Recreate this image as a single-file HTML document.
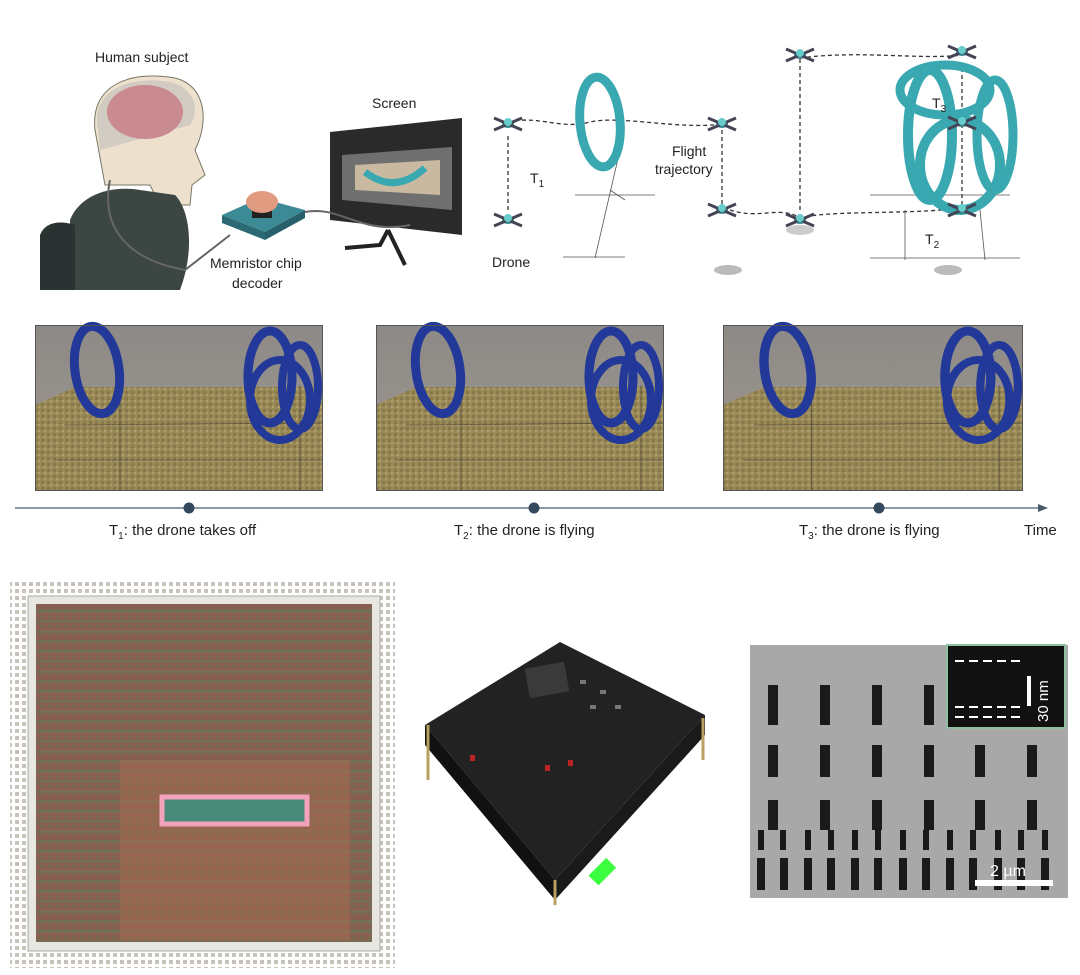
<!DOCTYPE html>
<html><head><meta charset="utf-8"><style>
body{margin:0;background:#fff;width:1080px;height:975px;overflow:hidden;font-family:"Liberation Sans",sans-serif}
svg{display:block}
text{font-family:"Liberation Sans",sans-serif;fill:#222}
</style></head><body>
<svg width="1080" height="975" viewBox="0 0 1080 975">
<defs>
<linearGradient id="wall" x1="0" y1="0" x2="0" y2="1"><stop offset="0" stop-color="#8d8986"/><stop offset="1" stop-color="#a09a92"/></linearGradient>
<pattern id="floor" width="6" height="6" patternUnits="userSpaceOnUse"><rect width="6" height="6" fill="#9a8a58"/><rect width="3" height="3" fill="#86784a"/><rect x="3" y="3" width="2" height="2" fill="#b09f6c"/></pattern>
<pattern id="chipg" width="8" height="8" patternUnits="userSpaceOnUse"><rect width="8" height="8" fill="#8a5e4e"/><rect width="4" height="4" fill="#7a6a52"/><rect x="4" y="4" width="3" height="3" fill="#9a5a48"/></pattern>
<pattern id="streak" width="12" height="10" patternUnits="userSpaceOnUse"><rect width="12" height="10" fill="none"/><rect y="0" width="12" height="3" fill="#6a7a5a" opacity="0.5"/></pattern>
<pattern id="pins" width="7" height="7" patternUnits="userSpaceOnUse"><rect width="7" height="7" fill="#fff"/><rect x="1" y="1" width="4" height="4" fill="#c8c4bc"/></pattern>
<g id="photo">
<rect width="287" height="165" fill="url(#wall)"/>
<polygon points="0,80 40,62 287,62 287,165 0,165" fill="url(#floor)"/>
<g stroke="#333" stroke-width="0.8" fill="none" opacity="0.6"><line x1="20" y1="135" x2="287" y2="135"/><line x1="30" y1="100" x2="287" y2="98"/><line x1="85" y1="60" x2="85" y2="165"/><line x1="265" y1="60" x2="265" y2="165"/></g>
<ellipse cx="62" cy="45" rx="22" ry="44" fill="none" stroke="#23399a" stroke-width="9" transform="rotate(-8 62 45)"/>
<ellipse cx="235" cy="52" rx="22" ry="46" fill="none" stroke="#23399a" stroke-width="9"/>
<ellipse cx="265" cy="62" rx="18" ry="42" fill="none" stroke="#23399a" stroke-width="8"/>
<ellipse cx="245" cy="75" rx="30" ry="40" fill="none" stroke="#23399a" stroke-width="8"/>
</g>
<g id="drone"><ellipse cx="0" cy="0" rx="6" ry="4" fill="#3a8d95"/><path d="M-14,-6 L14,6 M-14,6 L14,-6" stroke="#445" stroke-width="3"/><circle cx="0" cy="-2" r="4" fill="#6cc"/></g>
</defs>

<text x="95" y="62" font-size="14">Human subject</text>
<path d="M95,130 C90,85 130,70 175,78 C205,85 210,120 195,150 L205,175 L192,185 L190,205 L160,205 L150,185 L105,185 Z" fill="#ede0cc" stroke="#776" stroke-width="1"/>
<path d="M98,130 C90,90 130,75 170,82 C195,88 200,110 190,125 L100,150 Z" fill="#c9c6bf" opacity="0.8"/>
<ellipse cx="145" cy="112" rx="38" ry="27" fill="#c98a90"/>
<path d="M70,290 L70,220 C80,195 110,185 140,190 L175,195 C190,210 195,250 180,290 Z" fill="#3c4643"/>
<path d="M40,290 L40,235 C45,222 60,220 75,225 L75,290 Z" fill="#2a3331"/>
<path d="M110,180 C100,230 130,260 185,270 L230,235" stroke="#666" stroke-width="2" fill="none"/>
<polygon points="222,215 260,198 305,210 265,232" fill="#3c8a95"/>
<polygon points="222,215 265,232 265,240 222,223" fill="#2b6a75"/>
<polygon points="265,232 305,210 305,218 265,240" fill="#27606a"/>
<rect x="252" y="206" width="20" height="12" fill="#222"/>
<ellipse cx="262" cy="202" rx="16" ry="11" fill="#e09b80"/>
<text x="210" y="268" font-size="14">Memristor chip</text>
<text x="232" y="288" font-size="14">decoder</text>
<text x="372" y="108" font-size="14">Screen</text>
<polygon points="330,132 462,118 462,235 330,220" fill="#2a2a2a"/>
<polygon points="342,155 452,147 452,210 342,200" fill="#6f6f6f"/>
<polygon points="355,165 440,160 440,195 355,190" fill="#c9b9a1"/>
<path d="M365,172 Q395,195 425,168" stroke="#3aa8b0" stroke-width="7" fill="none"/>
<path d="M388,230 L380,245 L345,248 M388,230 L405,265" stroke="#222" stroke-width="4" fill="none"/>
<path d="M305,212 C340,205 360,235 410,225" stroke="#666" stroke-width="2" fill="none"/>

<g stroke="#333" stroke-width="1.3" stroke-dasharray="4,3" fill="none">
<path d="M508,122 C540,115 560,130 590,122 C620,115 680,130 722,124"/>
<path d="M508,210 L508,135"/>
<path d="M722,130 L722,205"/>
<path d="M730,210 C760,220 780,205 800,218 C830,210 900,215 965,208"/>
<path d="M800,210 L800,58"/>
<path d="M800,58 C860,50 920,60 962,55"/>
<path d="M962,68 L962,205"/>
</g>
<g stroke="#555" stroke-width="0.8" fill="none">
<line x1="575" y1="195" x2="655" y2="195"/><line x1="563" y1="257" x2="625" y2="257"/><line x1="620" y1="150" x2="595" y2="258"/><line x1="610" y1="190" x2="625" y2="200"/>
<line x1="870" y1="195" x2="1010" y2="195"/><line x1="870" y1="258" x2="1020" y2="258"/><line x1="905" y1="210" x2="905" y2="260"/><line x1="980" y1="210" x2="985" y2="260"/>
</g>
<ellipse cx="600" cy="122" rx="20" ry="45" fill="none" stroke="#3aa8b0" stroke-width="9" transform="rotate(-5 600 122)"/>
<ellipse cx="930" cy="135" rx="22" ry="65" fill="none" stroke="#3aa8b0" stroke-width="10"/>
<ellipse cx="995" cy="135" rx="18" ry="55" fill="none" stroke="#3aa8b0" stroke-width="9"/>
<ellipse cx="960" cy="165" rx="40" ry="45" fill="none" stroke="#3aa8b0" stroke-width="10"/>
<ellipse cx="945" cy="90" rx="45" ry="25" fill="none" stroke="#3aa8b0" stroke-width="9"/>
<use href="#drone" x="508" y="124"/><use href="#drone" x="508" y="220"/><use href="#drone" x="722" y="124"/><use href="#drone" x="722" y="210"/><use href="#drone" x="800" y="220"/><use href="#drone" x="800" y="55"/><use href="#drone" x="962" y="52"/><use href="#drone" x="962" y="123"/><use href="#drone" x="962" y="210"/>
<ellipse cx="728" cy="270" rx="14" ry="5" fill="#bbb"/><ellipse cx="800" cy="230" rx="14" ry="5" fill="#ccc"/><ellipse cx="948" cy="270" rx="14" ry="5" fill="#bbb"/>
<text x="530" y="183" font-size="14">T<tspan font-size="10" dy="4">1</tspan></text>
<text x="492" y="267" font-size="14">Drone</text>
<text x="672" y="156" font-size="14">Flight</text>
<text x="655" y="174" font-size="14">trajectory</text>
<text x="932" y="108" font-size="14">T<tspan font-size="10" dy="4">3</tspan></text>
<text x="925" y="244" font-size="14">T<tspan font-size="10" dy="4">2</tspan></text>

<use href="#photo" x="35" y="325"/>
<use href="#photo" x="376" y="325"/>
<use href="#photo" x="723" y="325" transform="translate(723 325) scale(1.042 1) translate(-723 -325)"/>
<g fill="none" stroke="#555" stroke-width="1"><rect x="35.5" y="325.5" width="287" height="165"/><rect x="376.5" y="325.5" width="287" height="165"/><rect x="723.5" y="325.5" width="299" height="165"/></g>

<line x1="15" y1="508" x2="1040" y2="508" stroke="#4a5a6a" stroke-width="1.3"/>
<polygon points="1048,508 1038,504 1038,512" fill="#4a5a6a"/>
<circle cx="189" cy="508" r="5.5" fill="#34495e"/><circle cx="534" cy="508" r="5.5" fill="#34495e"/><circle cx="879" cy="508" r="5.5" fill="#34495e"/>
<text x="109" y="535" font-size="15">T<tspan font-size="10" dy="4">1</tspan><tspan dy="-4">: the drone takes off</tspan></text>
<text x="454" y="535" font-size="15">T<tspan font-size="10" dy="4">2</tspan><tspan dy="-4">: the drone is flying</tspan></text>
<text x="799" y="535" font-size="15">T<tspan font-size="10" dy="4">3</tspan><tspan dy="-4">: the drone is flying</tspan></text>
<text x="1024" y="535" font-size="15">Time</text>

<rect x="10" y="580" width="385" height="388" fill="url(#pins)"/>
<rect x="28" y="596" width="352" height="355" fill="#e8e6e0" stroke="#aaa"/>
<rect x="36" y="604" width="336" height="338" fill="url(#chipg)"/>
<rect x="36" y="604" width="336" height="338" fill="#7c6456" opacity="0.35"/>
<rect x="36" y="604" width="336" height="338" fill="url(#streak)"/>
<rect x="120" y="760" width="230" height="180" fill="#a86a50" opacity="0.5"/>
<rect x="162" y="797" width="145" height="27" fill="#4a8a78" stroke="#f2a2bb" stroke-width="5"/>

<polygon points="560,642 705,715 555,880 425,725" fill="#222"/>
<polygon points="425,725 555,880 555,900 425,745" fill="#111"/>
<polygon points="555,880 705,715 705,735 555,900" fill="#1a1a1a"/>
<rect x="527" y="665" width="40" height="30" fill="#3a3a3a" transform="rotate(-10 547 680)"/>
<g fill="#777"><rect x="580" y="680" width="6" height="4"/><rect x="600" y="690" width="6" height="4"/><rect x="590" y="705" width="6" height="4"/><rect x="615" y="705" width="6" height="4"/></g>
<g fill="#b22"><rect x="470" y="755" width="5" height="6"/><rect x="545" y="765" width="5" height="6"/><rect x="568" y="760" width="5" height="6"/></g>
<rect x="590" y="865" width="25" height="14" fill="#3cff40" transform="rotate(-45 602 872)"/>
<g stroke="#b8a060" stroke-width="3"><line x1="428" y1="725" x2="428" y2="780"/><line x1="555" y1="880" x2="555" y2="905"/><line x1="703" y1="718" x2="703" y2="760"/></g>

<rect x="750" y="645" width="318" height="253" fill="#a8a8a8"/>
<g fill="#1a1a1a">
<rect x="768" y="685" width="10" height="40"/><rect x="820" y="685" width="10" height="40"/><rect x="872" y="685" width="10" height="40"/><rect x="924" y="685" width="10" height="40"/>
<rect x="768" y="745" width="10" height="32"/><rect x="820" y="745" width="10" height="32"/><rect x="872" y="745" width="10" height="32"/><rect x="924" y="745" width="10" height="32"/><rect x="975" y="745" width="10" height="32"/><rect x="1027" y="745" width="10" height="32"/>
<rect x="768" y="800" width="10" height="30"/><rect x="820" y="800" width="10" height="30"/><rect x="872" y="800" width="10" height="30"/><rect x="924" y="800" width="10" height="30"/><rect x="975" y="800" width="10" height="30"/><rect x="1027" y="800" width="10" height="30"/>
<rect x="758" y="830" width="6" height="20"/><rect x="780" y="830" width="6" height="20"/><rect x="805" y="830" width="6" height="20"/><rect x="828" y="830" width="6" height="20"/><rect x="852" y="830" width="6" height="20"/><rect x="875" y="830" width="6" height="20"/><rect x="900" y="830" width="6" height="20"/><rect x="923" y="830" width="6" height="20"/><rect x="947" y="830" width="6" height="20"/><rect x="970" y="830" width="6" height="20"/><rect x="995" y="830" width="6" height="20"/><rect x="1018" y="830" width="6" height="20"/><rect x="1042" y="830" width="6" height="20"/>
<rect x="757" y="858" width="8" height="32"/><rect x="780" y="858" width="8" height="32"/><rect x="804" y="858" width="8" height="32"/><rect x="827" y="858" width="8" height="32"/><rect x="851" y="858" width="8" height="32"/><rect x="874" y="858" width="8" height="32"/><rect x="899" y="858" width="8" height="32"/><rect x="922" y="858" width="8" height="32"/><rect x="946" y="858" width="8" height="32"/><rect x="969" y="858" width="8" height="32"/><rect x="994" y="858" width="8" height="32"/><rect x="1017" y="858" width="8" height="32"/><rect x="1041" y="858" width="8" height="32"/>
</g>
<rect x="947" y="645" width="118" height="83" fill="#111" stroke="#8fbf9f" stroke-width="2"/>
<g stroke="#fff" stroke-width="2" stroke-dasharray="9,5"><line x1="955" y1="661" x2="1020" y2="661"/><line x1="955" y1="707" x2="1020" y2="707"/><line x1="955" y1="717" x2="1020" y2="717"/></g>
<rect x="1027" y="676" width="4" height="30" fill="#fff"/>
<text x="1048" y="722" font-size="15" style="fill:#fff" transform="rotate(-90 1048 722)">30 nm</text>
<rect x="975" y="880" width="78" height="6" fill="#fff"/>
<text x="990" y="876" font-size="16" style="fill:#fff">2 µm</text>
</svg>
</body></html>
